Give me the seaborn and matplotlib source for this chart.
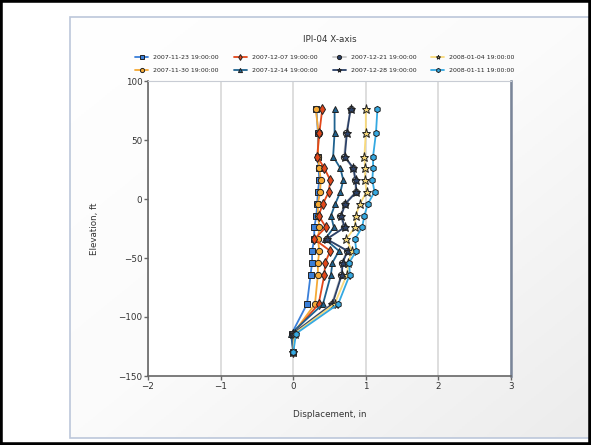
import numpy as np
import pandas as pd
import seaborn as sns
import matplotlib.pyplot as plt
from matplotlib.patches import Rectangle
from matplotlib.colors import LinearSegmentedColormap

# elevations (ft) for every reading
elev = [76, 56, 36, 26, 16, 6, -4, -14, -24, -34, -44, -54, -64, -89, -114, -130]

dates = ['2007-11-23 19:00:00', '2007-11-30 19:00:00', '2007-12-07 19:00:00',
         '2007-12-14 19:00:00', '2007-12-21 19:00:00', '2007-12-28 19:00:00',
         '2008-01-04 19:00:00', '2008-01-11 19:00:00']

d_1123 = [0.32, 0.34, 0.34, 0.35, 0.36, 0.34, 0.33, 0.32, 0.29, 0.29, 0.26, 0.26, 0.24, 0.19, -0.02, 0.0]
d_1130 = [0.31, 0.35, 0.34, 0.36, 0.38, 0.37, 0.34, 0.34, 0.36, 0.34, 0.36, 0.34, 0.34, 0.30, 0.0, 0.0]
d_1207 = [0.40, 0.36, 0.33, 0.43, 0.51, 0.49, 0.41, 0.35, 0.45, 0.29, 0.51, 0.44, 0.43, 0.35, 0.0, 0.0]
d_1214 = [0.57, 0.57, 0.55, 0.65, 0.69, 0.65, 0.58, 0.52, 0.56, 0.44, 0.63, 0.54, 0.52, 0.41, -0.03, 0.0]
d_1221 = [0.79, 0.73, 0.70, 0.82, 0.85, 0.86, 0.71, 0.65, 0.70, 0.47, 0.74, 0.67, 0.66, 0.53, 0.0, 0.0]
d_1228 = [0.79, 0.74, 0.71, 0.83, 0.86, 0.87, 0.72, 0.66, 0.71, 0.46, 0.75, 0.68, 0.67, 0.54, 0.0, 0.0]
d_0104 = [1.00, 1.00, 0.98, 0.99, 0.99, 1.01, 0.92, 0.86, 0.85, 0.73, 0.81, 0.76, 0.74, 0.57, 0.02, 0.0]
d_0111 = [1.16, 1.14, 1.10, 1.10, 1.09, 1.12, 1.03, 0.98, 0.95, 0.85, 0.87, 0.77, 0.78, 0.62, 0.04, 0.0]

series = [d_1123, d_1130, d_1207, d_1214, d_1221, d_1228, d_0104, d_0111]

colors = ['#3a7fd9', '#f5a935', '#e2471a', '#1f628f', '#c8c8c8', '#2c4168', '#f8d97a', '#34a9e2']
marks = ['s', 'o', 'd', '^', 'o', '*', '*', 'h']

rows = []
for date, vals in zip(dates, series):
    for e, v in zip(elev, vals):
        rows.append({'Date': date, 'Displacement': v, 'Elevation': e})
df = pd.DataFrame(rows)

sns.set_style('white')
plt.rcParams['font.family'] = ['DejaVu Sans']

fig = plt.figure(figsize=(5.91, 4.45), dpi=100)

# very light gradient panel behind the chart
bg = fig.add_axes([70 / 591, 7 / 445, 521 / 591, 421 / 445], zorder=-2)
gx, gy = np.meshgrid(np.linspace(0, 1, 200), np.linspace(0, 1, 200))
grad = (gx + gy) / 2
bg_cmap = LinearSegmentedColormap.from_list('panel', ['#ffffff', '#fbfbfb', '#ececec'])
bg.imshow(grad, cmap=bg_cmap, aspect='auto', extent=[0, 1, 0, 1], origin='upper', vmin=0, vmax=1)
bg.set_axis_off()
fig.patches.append(Rectangle((70 / 591, 7 / 445), 521 / 591, 421 / 445, transform=fig.transFigure,
                             fill=False, edgecolor='#bcc7da', linewidth=1.2))
fig.patches.append(Rectangle((0, 0), 1, 1, transform=fig.transFigure,
                             fill=False, edgecolor='black', linewidth=4))

ax = fig.add_axes([148 / 591, 69 / 445, 363 / 591, 295 / 445])
ax.set_facecolor('white')

sns.lineplot(data=df, x='Displacement', y='Elevation', hue='Date', style='Date',
             palette=dict(zip(dates, colors)), markers=dict(zip(dates, marks)),
             dashes=False, sort=False, estimator=None, ax=ax,
             linewidth=1.3, markersize=4.5, markeredgecolor='#222222', markeredgewidth=0.7)

# stars drawn a bit larger, grey series with dark markers
for line in ax.lines:
    if line.get_marker() == '*':
        line.set_markersize(6.5)
    if line.get_marker() == 'd':
        line.set_markersize(4.8)
    if line.get_marker() == 's':
        line.set_markersize(5)
    if line.get_label() == dates[4]:
        line.set_markerfacecolor('#2c4168')

ax.set_xlim(-2, 3)
ax.set_ylim(-150, 100)
ax.set_xticks([-2, -1, 0, 1, 2, 3])
ax.set_yticks([-150, -100, -50, 0, 50, 100])
ax.xaxis.grid(True, color='#dedede', linewidth=1.4)
ax.yaxis.grid(False)
ax.tick_params(axis='both', labelsize=6.3, direction='out', length=3, width=1,
               color='#666666', labelcolor='#333333', bottom=True, left=True, pad=1)

for side in ['left', 'bottom']:
    ax.spines[side].set_color('#666666')
    ax.spines[side].set_linewidth(1.2)
ax.spines['top'].set_color('#c8ccd4')
ax.spines['right'].set_color('#7a8599')
ax.spines['right'].set_linewidth(1.8)

ax.set_xlabel('Displacement, in', fontsize=6.3, color='#333333', labelpad=14)
ax.set_ylabel('Elevation, ft', fontsize=6.3, color='#333333', labelpad=14)
fig.text(330 / 591, 1 - 39 / 445, 'IPI-04 X-axis', ha='center', va='center', fontsize=6.3, color='#333333')

leg = ax.legend(loc='upper center', bbox_to_anchor=(325 / 591, 1 - 55 / 445), bbox_transform=fig.transFigure,
                ncol=4, fontsize=4.5, frameon=False, handlelength=2.1, columnspacing=2.4,
                handletextpad=0.8, markerscale=0.6, labelspacing=1.15, borderaxespad=0, borderpad=0)
for h in leg.legend_handles:
    h.set_markersize(3)

fig.savefig('out.png', dpi=100)
